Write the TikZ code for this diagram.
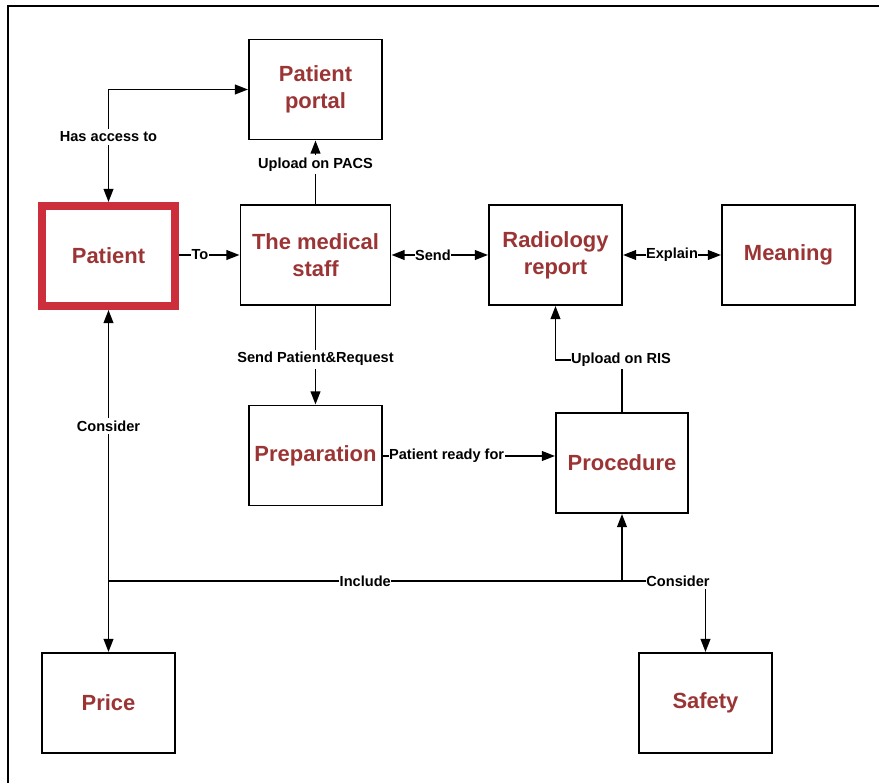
\documentclass[tikz,border=0pt]{standalone}
\usepackage{fontspec}
\setmainfont{Liberation Sans}
\usetikzlibrary{arrows.meta}
\definecolor{txt}{HTML}{9B3535}
\definecolor{redb}{HTML}{CC2E3C}
\begin{document}
\begin{tikzpicture}[x=0.02cm,y=-0.02cm,
 box/.style={draw, line width=1.1pt, minimum width=2.66cm, minimum height=2cm, text=txt, align=center, font=\fontsize{12.5}{15.3}\selectfont\bfseries, inner sep=0pt},
 lbl/.style={fill=white, inner xsep=0.3pt, inner ysep=1.5pt, font=\fontsize{8.3}{10}\selectfont\bfseries, text=black},
 conn/.style={line width=1.1pt},
 >={Triangle[length=7.5pt,width=5.5pt]}]
\useasboundingbox (0,0) rectangle (879,783);
\clip (0,0) rectangle (879,783);
\draw[line width=1.2pt] (8,6) rectangle (920,820);

\node[box] (portal) at (315.5,89.5) {Patient\\portal};
\node[box, minimum width=3cm] (staff) at (315.5,255) {The medical\\staff};
\node[box] (radio) at (555.5,255) {Radiology\\report};
\node[box] (meaning) at (788.5,255) {Meaning};
\node[box, draw=redb, line width=4.5pt, minimum width=2.65cm] (patient) at (108.5,256) {Patient};
\node[box] (prep) at (315.5,455.5) {Preparation};
\node[box, minimum width=2.64cm] (proc) at (622,463) {Procedure};
\node[box] (price) at (108.5,703) {Price};
\node[box] (safety) at (705.5,703) {Safety};

\coordinate (h) at (108.5,89.5);
\draw[conn,<->] (patient.north) -- (h) -- (portal.west);
\node[lbl] (l1) at (108.5,137) {Has access to};

\draw[conn,->] (staff.north) -- node[lbl,pos=0.62] (l2) {Upload on PACS} (portal.south);
\draw[conn,->] (patient.east |- 0,255) -- node[lbl,pos=0.35] (l3) {To} (staff.west);
\draw[conn,<->] (staff.east) -- node[lbl,pos=0.43] (l4) {Send} (radio.west);
\draw[conn,<->] (radio.east) -- node[lbl] (l5) {Explain} (meaning.west);
\draw[conn,->] (staff.south) -- node[lbl,pos=0.54] (l6) {Send Patient\&Request} (prep.north);
\draw[conn,->] (prep.east |- 0,456) -- node[lbl,pos=0.37] (l7) {Patient ready for} (proc.west |- 0,456);

\coordinate (r1) at (622,360);
\coordinate (r2) at (555.5,360);
\draw[conn,->] (proc.north) -- (r1) -- (r2) -- (radio.south);
\node[lbl] (l8) at (621,360) {Upload on RIS};

\draw[conn,<->] (patient.south) -- node[lbl,pos=0.34] (l9) {Consider} (price.north);

\coordinate (j1) at (108.5,581);
\coordinate (j2) at (622,581);
\coordinate (j3) at (705.5,581);
\draw[conn] (j1) -- node[lbl,pos=0.5] (l10) {Include} (j2);
\draw[conn,->] (j2) -- (proc.south);
\draw[conn,->] (j2) -- (j3) -- (safety.north);
\node[lbl] (l11) at (678,581) {Consider};
\end{tikzpicture}
\end{document}
